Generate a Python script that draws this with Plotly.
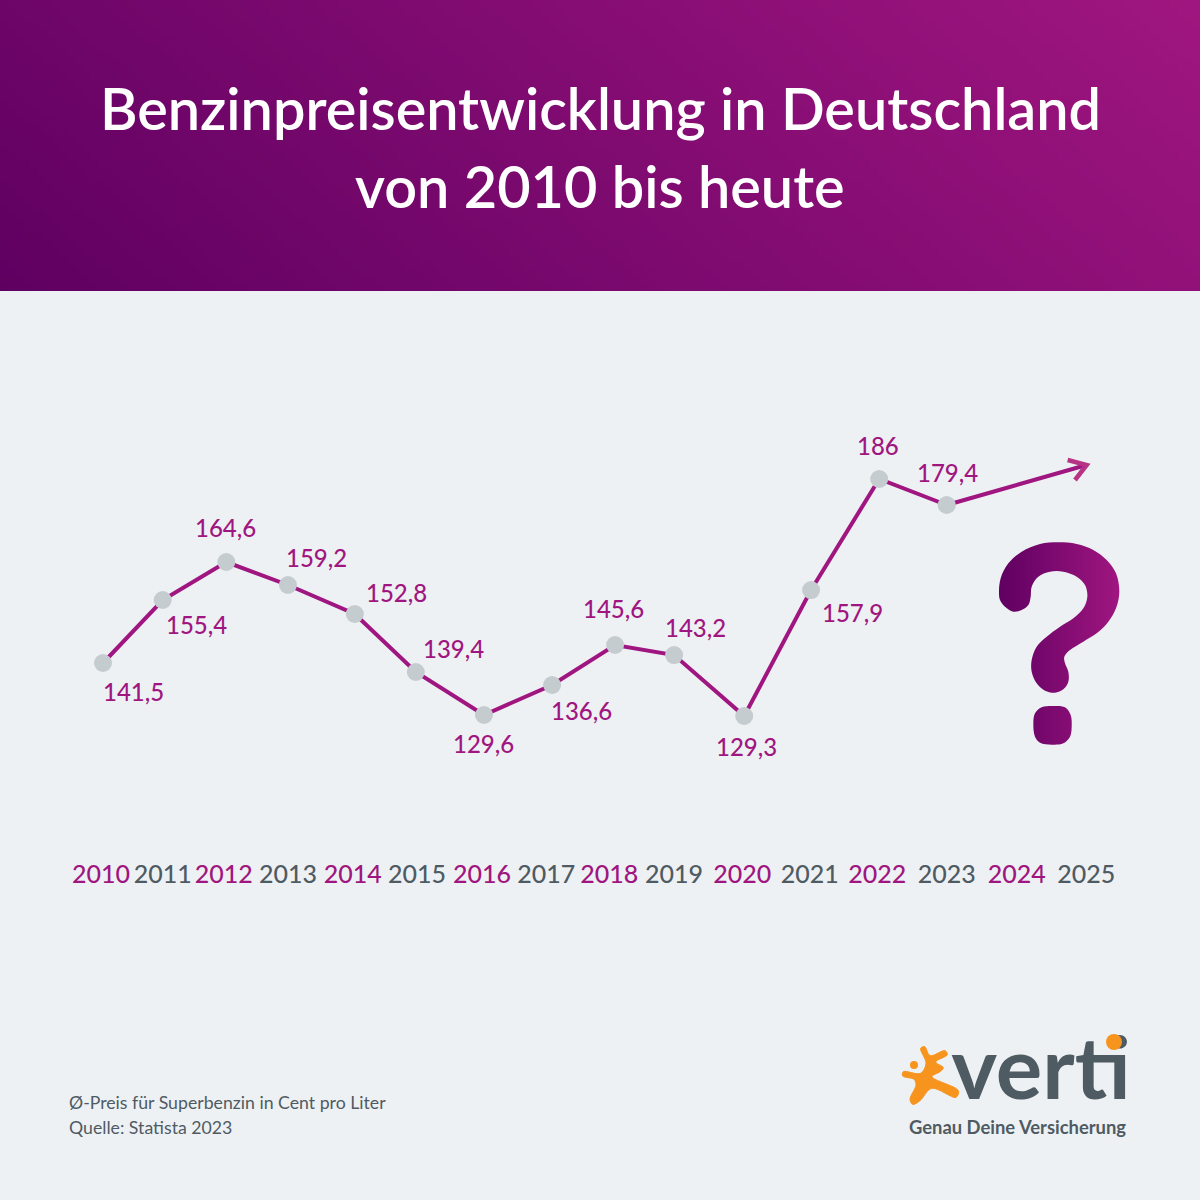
import numpy as np
import plotly.graph_objects as go

FONT = "Lato"
PURPLE = "rgb(160,22,128)"
DARK = "rgb(78,91,99)"
BACKGROUND = "rgb(238,241,244)"

preise = [
    (2010.00, "141,5", 141.98, 30, 28),
    (2010.92, "155,4", 157.05, 34, 24),
    (2011.90, "164,6", 166.14, -1, -35),
    (2012.85, "159,2", 160.64, 29, -28),
    (2013.88, "152,8", 153.70, 42, -22),
    (2014.82, "139,4", 139.83, 38, -23),
    (2015.87, "129,6", 129.54, 0, 28),
    (2016.92, "136,6", 136.72, 29, 26),
    (2017.89, "145,6", 146.29, -2, -36),
    (2018.80, "143,2", 143.89, 21, -28),
    (2019.88, "129,3", 129.30, 2, 30),
    (2020.91, "157,9", 159.44, 41, 22),
    (2021.96, "186", 186.00, -1, -34),
    (2023.00, "179,4", 179.78, 1, -33),
]
jahre = list(range(2010, 2026))
jahre_x = [2009.97, 2010.92, 2011.86, 2012.85, 2013.85, 2014.84, 2015.84, 2016.83,
           2017.80, 2018.80, 2019.85, 2020.89, 2021.93, 2023.00, 2024.08, 2025.15]

# Umrisse aus dem Bild (Zoom-Koordinaten)
frage_bogen = [(207, 490), (212, 445), (235, 400), (275, 365), (330, 342), (385, 337), (440, 342),
               (490, 360), (530, 390), (558, 430), (568, 485), (558, 535), (535, 575), (500, 610),
               (460, 635), (420, 660), (403, 680), (405, 700), (415, 725), (415, 755), (400, 778),
               (375, 788), (345, 782), (320, 760), (305, 725), (305, 690), (320, 650), (350, 620),
               (390, 590), (430, 565), (460, 535), (472, 500), (465, 465), (440, 440), (400, 425),
               (360, 425), (325, 440), (305, 470), (302, 500), (295, 525), (275, 540), (250, 545),
               (225, 530), (210, 510), (207, 490)]
frage_punkt = [(310, 880), (315, 850), (335, 832), (370, 828), (405, 832), (422, 855), (425, 890),
               (420, 920), (400, 940), (365, 944), (330, 938), (315, 920), (310, 880)]
figur = [(92, 85), (104, 80), (120, 107), (165, 92), (172, 104), (137, 126), (160, 143), (150, 155),
         (126, 170), (205, 212), (198, 232), (125, 205), (90, 242), (68, 253), (60, 238), (78, 195),
         (72, 178), (38, 168), (40, 155), (92, 160), (108, 130), (92, 85)]


def umriss(punkte, x0, y0):
    """
    Rechnet Zoom-Koordinaten in Bildpixel um
    """
    return [x0 + p[0] / 3 for p in punkte], [y0 + p[1] / 3 for p in punkte]


def frage_trace(punkte) -> go.Scatter:
    """
    Hilfsmethode fuer das Fragezeichen mit Verlauf
    """
    x, y = umriss(punkte, 930, 430)
    return go.Scatter(
        x=x, y=y, xaxis="x2", yaxis="y2", mode="lines", fill="toself",
        line=dict(width=0, shape="spline", color="rgb(130,10,110)"),
        fillgradient=dict(type="horizontal", start=999, stop=1120,
                          colorscale=[[0, "rgb(95,0,97)"], [1, "rgb(160,22,128)"]]),
        hoverinfo="skip",
    )


fig = go.Figure()

# Kopfzeile mit diagonalem Verlauf
kopf_x = np.linspace(0, 1200, 161)
kopf_y = np.linspace(0, 291, 41)
kx, ky = np.meshgrid((kopf_x[:-1] + kopf_x[1:]) / 2, (kopf_y[:-1] + kopf_y[1:]) / 2)
fig.add_trace(go.Heatmap(
    x=kopf_x, y=kopf_y, z=kx / 1200 * 0.78 + (291 - ky) / 291 * 0.22,
    xaxis="x2", yaxis="y2", showscale=False, hoverinfo="skip", zmin=0, zmax=1,
    colorscale=[[0, "rgb(95,0,97)"], [1, "rgb(160,22,128)"]],
))

fig.add_trace(frage_trace(frage_bogen))
fig.add_trace(frage_trace(frage_punkt))

# Logo
x, y = umriss(figur, 890, 1020)
fig.add_trace(go.Scatter(x=x, y=y, xaxis="x2", yaxis="y2", mode="lines", fill="toself",
                         fillcolor="rgb(247,148,29)",
                         line=dict(width=1, shape="spline", color="rgb(247,148,29)"), hoverinfo="skip"))
fig.add_trace(go.Scatter(x=[1041], y=[1077], xaxis="x2", yaxis="y2", mode="text", text=["verti"],
                         textposition="middle center", hoverinfo="skip",
                         textfont=dict(family=FONT, size=87, color=DARK, weight=700)))

# Pfeilspitze
x, y = umriss([(413, 90), (470, 105), (435, 150)], 930, 430)
fig.add_trace(go.Scatter(x=x, y=y, xaxis="x2", yaxis="y2", mode="lines",
                         line=dict(width=4.5, color="rgb(183,52,133)"), hoverinfo="skip"))

# Verlauf bis heute
fig.add_trace(go.Scatter(x=[2023, 2025.14], y=[179.78, 189.3], mode="lines",
                         line=dict(width=4, color=PURPLE), hoverinfo="skip"))
fig.add_trace(go.Scatter(
    x=[p[0] for p in preise], y=[p[2] for p in preise], mode="lines+markers",
    line=dict(width=4, color=PURPLE),
    marker=dict(size=18, color="rgb(197,204,208)", line=dict(width=0)),
))

for p in preise:
    fig.add_annotation(x=p[0], y=p[2], text=p[1], showarrow=False, xshift=p[3], yshift=-p[4],
                       font=dict(family=FONT, size=24, color=PURPLE, weight=500))

fig.add_annotation(xref="x2", yref="y2", x=600, y=107, text="Benzinpreisentwicklung in Deutschland",
                   showarrow=False, font=dict(family=FONT, size=57.6, color="white", weight=600))
fig.add_annotation(xref="x2", yref="y2", x=600, y=185, text="von 2010 bis heute",
                   showarrow=False, font=dict(family=FONT, size=57.6, color="white", weight=600))
fig.add_annotation(xref="x2", yref="y2", x=67, y=1102, xanchor="left", text="Ø-Preis für Superbenzin in Cent pro Liter",
                   showarrow=False, font=dict(family=FONT, size=17.7, color=DARK))
fig.add_annotation(xref="x2", yref="y2", x=67, y=1127, xanchor="left", text="Quelle: Statista 2023",
                   showarrow=False, font=dict(family=FONT, size=17.7, color=DARK))
fig.add_annotation(xref="x2", yref="y2", x=1128, y=1127, xanchor="right", text="Genau Deine Versicherung",
                   showarrow=False, font=dict(family=FONT, size=18.4, color=DARK, weight=700))

# Punkt auf dem i und Kopf der Figur
fig.add_shape(type="circle", xref="x2", yref="y2", x0=1106, x1=1122, y0=1034, y1=1050,
              fillcolor="rgb(247,148,29)", line_width=0, layer="above")
fig.add_shape(type="circle", xref="x2", yref="y2", x0=910, x1=918, y0=1061, y1=1069,
              fillcolor="rgb(247,148,29)", line_width=0, layer="above")

fig.update_layout(
    width=1200,
    height=1200,
    margin=dict(l=0, r=0, t=0, b=0),
    paper_bgcolor=BACKGROUND,
    plot_bgcolor="rgba(0,0,0,0)",
    showlegend=False,
    xaxis=dict(
        domain=[0, 1],
        range=[2010 - 103 / 64.9, 2010 + 1097 / 64.9],
        tickmode="array",
        tickvals=jahre_x,
        ticktext=[
            '<span style="color:%s">%d</span>' % (PURPLE if j % 2 == 0 else DARK, j) for j in jahre
        ],
        tickfont=dict(family=FONT, size=25, weight=500),
        tickangle=0,
        ticklen=0,
        showgrid=False,
        zeroline=False,
        showline=False,
    ),
    yaxis=dict(
        domain=[343 / 1200, 1],
        range=[186 - 378 / 4.18, 186 + 479 / 4.18],
        visible=False,
    ),
    xaxis2=dict(domain=[0, 1], range=[0, 1200], visible=False, anchor="y2"),
    yaxis2=dict(domain=[0, 1], range=[1200, 0], visible=False, anchor="x2"),
)

fig.write_html("out.html", config={"displayModeBar": False}, post_script="document.body.style.margin='0';")
